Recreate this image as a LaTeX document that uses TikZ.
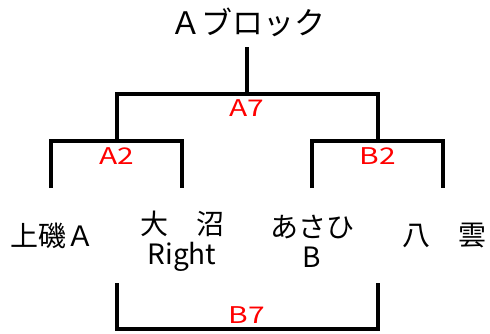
\documentclass[tikz,border=0pt]{standalone}
\usepackage{fontspec}
\setmainfont{Noto Sans CJK JP}
\usetikzlibrary{positioning}
\tikzset{x=1pt,y=1pt,
    team/.style={
        align=center,
        inner sep=0pt,
        font=\fontsize{28}{30}\selectfont},
    match/.style={
        text=red,
        inner sep=0pt,
        font=\fontsize{23}{23}\selectfont},
    bracket/.style={
        draw,
        line width=3.5pt,
        line join=miter}}
\newcommand{\wide}[1]{\scalebox{1.3}[1]{#1}}

\begin{document}
\begin{tikzpicture}
    \useasboundingbox (0,0) rectangle (490,333);
    \node[inner sep=0pt,font=\fontsize{31}{31}\selectfont] (title) at (248,311) {Ａブロック};
    \node[team] (kamiiso) at (52,97) {上磯Ａ};
    \node[team] (oonuma) at (182,92) {大　沼\\Right};
    \node[team] (asahi) at (312,92) {あさひ\\B};
    \node[team] (yakumo) at (444,97) {八　雲};
    \coordinate (stem) at (247,286);
    \coordinate (a7) at (247,239);
    \coordinate (a7l) at (117,239);
    \coordinate (a7r) at (378,239);
    \coordinate (a2) at (117,192);
    \coordinate (a2l) at (51,192);
    \coordinate (a2r) at (182,192);
    \coordinate (b2) at (378,192);
    \coordinate (b2l) at (312,192);
    \coordinate (b2r) at (443,192);
    \coordinate (b7l) at (117,4);
    \coordinate (b7r) at (378,4);
    \node[match] (A7) at (247,225) {\wide{A7}};
    \node[match] (A2) at (117,177) {\wide{A2}};
    \node[match] (B2) at (378,177) {\wide{B2}};
    \node[match] (B7) at (247,18) {\wide{B7}};
    \draw[bracket] (stem) -- (a7);
    \draw[bracket] (a2) -- (a7l) -- (a7r) -- (b2);
    \draw[bracket] (a2l |- 0,145) -- (a2l) -- (a2r) -- (a2r |- 0,145);
    \draw[bracket] (b2l |- 0,145) -- (b2l) -- (b2r) -- (b2r |- 0,145);
    \draw[bracket] (b7l |- 0,50) -- (b7l) -- (b7r) -- (b7r |- 0,50);
\end{tikzpicture}
\end{document}
